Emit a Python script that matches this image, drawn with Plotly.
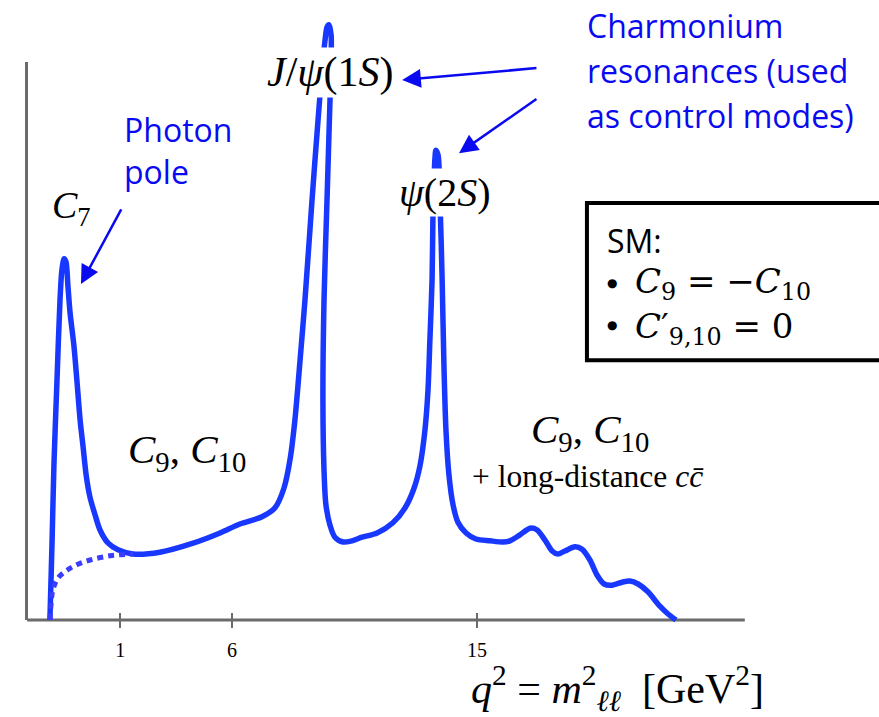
import plotly.graph_objects as go

# Schematic differential rate vs q^2 (axis units are schematic q^2; ticks are labelled at 1, 6, 15)
q2 = [-0.69, -0.61, -0.54, -0.43, -0.32, -0.25, -0.17, -0.10, -0.03, 0.05, 0.19, 0.30,
      0.42, 0.53, 0.64, 0.78, 0.97, 1.15, 1.45, 1.81, 2.36, 3.35, 4.57, 5.56, 6.29,
      7.10, 7.58, 7.91, 8.13, 8.31, 8.50, 8.68, 8.94, 9.16, 9.31, 9.42, 9.49, 9.56,
      9.64, 9.64, 9.60, 9.49, 9.38, 9.34, 9.38, 9.45, 9.60, 9.78, 10.08, 10.41, 10.78,
      11.33, 11.91, 12.36, 12.69, 12.91, 13.09, 13.20, 13.27, 13.35, 13.38, 13.42,
      13.46, 13.49, 13.57, 13.64, 13.72, 13.79, 13.86, 13.97, 14.12, 14.30, 14.60,
      14.96, 15.48, 15.96, 16.21, 16.58, 16.95, 17.21, 17.50, 17.76, 17.97, 18.23,
      18.60, 18.86, 19.15, 19.41, 19.67, 19.96, 20.33, 20.62, 20.92, 21.28, 21.72,
      22.02, 22.31]
rate = [0.0, 13.3, 26.2, 40.0, 53.3, 58.3, 60.2, 59.7, 55.8, 51.2, 45.8, 40.0,
        33.3, 28.8, 24.2, 20.5, 17.5, 15.0, 12.8, 11.7, 11.0, 11.3, 12.8, 14.5, 16.0,
        17.2, 18.7, 22.0, 26.7, 33.3, 43.3, 53.3, 70.0, 83.3, 91.7, 96.7, 98.8, 99.2,
        97.5, 93.3, 86.7, 70.0, 53.3, 36.7, 25.0, 19.2, 15.8, 13.8, 13.0, 13.2, 13.8,
        14.5, 16.2, 18.7, 22.0, 25.8, 31.7, 38.3, 46.7, 56.7, 66.7, 73.3,
        77.2, 78.3, 77.5, 70.0, 56.7, 41.7, 31.7, 24.2, 19.2, 16.3, 14.5,
        13.5, 13.2, 13.0, 13.2, 14.2, 15.3, 15.0, 13.3, 11.5, 11.0, 11.5,
        12.2, 11.8, 10.0, 7.5, 6.0, 5.8, 6.3, 6.5, 6.0, 4.7, 2.3,
        1.0, 0.0]

# Same spectrum without the photon pole (low-q^2 branch)
q2_no_pole = [-0.69, -0.65, -0.58, -0.39, -0.06, 0.34, 0.79, 1.52, 2.36]
rate_no_pole = [0.0, 2.5, 5.0, 7.0, 8.3, 9.3, 10.0, 10.7, 11.0]

tick_pos = [1.89, 6.0, 15.0]
tick_text = ["1", "6", "15"]

CURVE = "rgb(24,56,255)"
NOTE = "rgb(10,10,240)"
AXIS = "#6b6b6b"
SERIF = "Liberation Serif"
SANS = "Open Sans"

fig = go.Figure()
fig.add_trace(go.Scatter(
    x=q2, y=rate, mode="lines",
    line=dict(color=CURVE, width=5.5, shape="spline", smoothing=0.8),
    hoverinfo="skip", showlegend=False))
fig.add_trace(go.Scatter(
    x=q2_no_pole, y=rate_no_pole, mode="lines", xaxis="x2",
    line=dict(color="rgb(60,60,255)", width=5, shape="spline", dash="6px,5px"),
    hoverinfo="skip", showlegend=False))

x_range = [-2.524, 29.77]
axis_pos = 9 / 629

fig.update_layout(
    width=879, height=717,
    margin=dict(l=0, r=0, t=0, b=88),
    paper_bgcolor="white", plot_bgcolor="white",
    xaxis=dict(range=x_range, showgrid=False, zeroline=False, showline=False,
               tickmode="array", tickvals=tick_pos, ticktext=tick_text,
               ticks="outside", ticklen=7, tickwidth=2, tickcolor=AXIS,
               ticklabelstandoff=5,
               tickfont=dict(family=SERIF, size=20, color="black"),
               anchor="free", position=axis_pos),
    xaxis2=dict(range=x_range, overlaying="x", showgrid=False, zeroline=False,
                showline=False, tickmode="array", tickvals=tick_pos,
                ticks="inside", ticklen=7, tickwidth=2, tickcolor=AXIS,
                showticklabels=False, anchor="free", position=axis_pos),
    yaxis=dict(range=[-1.5, 103.33], visible=False),
)

# axis lines
fig.add_shape(type="line", x0=-1.53, x1=24.84, y0=0, y1=0,
              line=dict(color=AXIS, width=3), layer="below")
fig.add_shape(type="line", x0=-1.55, x1=-1.55, y0=0, y1=93.0,
              line=dict(color=AXIS, width=3), layer="below")

# SM box
fig.add_shape(type="rect", x0=19.04, x1=30.5, y0=43.3, y1=69.5,
              line=dict(color="black", width=4), fillcolor="white")


def label(x, y, text, size, family=SERIF, color="black", xanchor="center", **kw):
    fig.add_annotation(x=x, y=y, xref="x", yref="y", text=text, showarrow=False,
                       xanchor=xanchor, yanchor="middle",
                       font=dict(family=family, size=size, color=color), **kw)


def arrow(x, y, ax, ay):
    fig.add_annotation(x=x, y=y, ax=ax, ay=ay, xref="x", yref="y", axref="x", ayref="y",
                       text="", showarrow=True, arrowhead=2, arrowsize=1.5,
                       arrowwidth=2.5, arrowcolor=NOTE, standoff=0, startstandoff=0)


label(0.12, 68.7, "<i>C</i><sub>7</sub>", 38)
label(9.60, 91.3, "<i>J</i>/<i>ψ</i>(1<i>S</i>)", 42, bgcolor="white")
label(13.82, 71.2, "<i>ψ</i>(2<i>S</i>)", 40, bgcolor="white")
label(4.35, 28.0, "<i>C</i><sub>9</sub>, <i>C</i><sub>10</sub>", 41)
label(19.15, 31.3, "<i>C</i><sub>9</sub>, <i>C</i><sub>10</sub>", 41)
label(19.08, 24.0, "+ long-distance <i>c</i><i>c\u0304</i>", 31.5)

label(1.96, 81.7, "Photon", 32, family=SANS, color=NOTE, xanchor="left")
label(1.96, 74.7, "pole", 32, family=SANS, color=NOTE, xanchor="left")
label(18.98, 99.0, "Charmonium", 32, family=SANS, color=NOTE, xanchor="left")
label(18.98, 91.5, "resonances (used", 32, family=SANS, color=NOTE, xanchor="left")
label(18.98, 84.0, "as control modes)", 32, family=SANS, color=NOTE, xanchor="left")

label(19.70, 63.3, "SM:", 32, family=SANS, xanchor="left")
label(19.96, 56.2, "●", 12, family="DejaVu Sans")
label(19.96, 49.2, "●", 12, family="DejaVu Sans")
label(20.73, 56.0, "<i>C</i><sub>9</sub> = −<i>C</i><sub>10</sub>", 34,
      family="DejaVu Serif", xanchor="left")
label(20.73, 48.6, "<i>C</i>′<sub>9,10</sub> = 0", 34,
      family="DejaVu Serif", xanchor="left")

# axis title
fig.add_annotation(x=0.703, y=-0.094, xref="paper", yref="paper",
                   text="<i>q</i><sup>2</sup> = <i>m</i><sup>2</sup><sub><i>ℓℓ</i></sub>"
                        "  [GeV<sup>2</sup>]",
                   showarrow=False, xanchor="center", yanchor="middle",
                   font=dict(family=SERIF, size=42, color="black"))

arrow(0.45, 56.0, 1.96, 68.7)
arrow(12.25, 90.0, 17.24, 92.0)
arrow(14.34, 77.8, 17.24, 87.0)

fig.write_html("out.html")
